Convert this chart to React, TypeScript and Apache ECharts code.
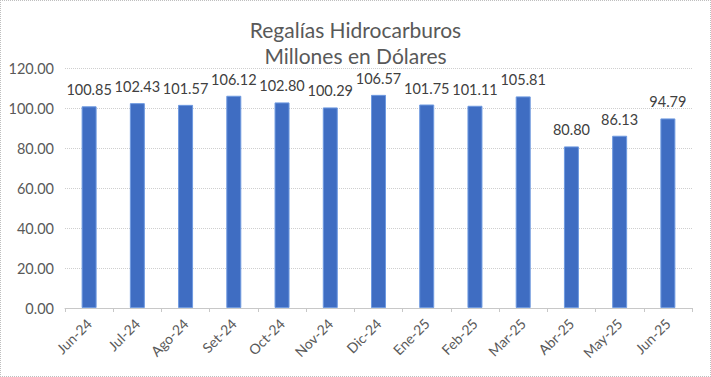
import React, { useEffect, useRef } from "react";
import * as echarts from "echarts";

const categories = ["Jun-24", "Jul-24", "Ago-24", "Set-24", "Oct-24", "Nov-24", "Dic-24", "Ene-25", "Feb-25", "Mar-25", "Abr-25", "May-25", "Jun-25"];
const values = [100.85, 102.43, 101.57, 106.12, 102.8, 100.29, 106.57, 101.75, 101.11, 105.81, 80.8, 86.13, 94.79];
const titleLines = ["Regalías Hidrocarburos", "Millones en Dólares"];

const FONT = "Lato, 'Open Sans', sans-serif";

export default function App() {
  const ref = useRef<HTMLDivElement>(null);
  useEffect(() => {
    if (!ref.current) return;
    const chart = echarts.init(ref.current, null, { renderer: "svg" });
    chart.setOption({
      animation: false,
      backgroundColor: "#ffffff",
      title: {
        text: titleLines.join("\n"),
        left: "center",
        top: 10,
        textStyle: { fontFamily: FONT, fontSize: 21, fontWeight: "normal", color: "#595959", lineHeight: 26 },
      },
      grid: { left: 64, right: 18, top: 67, bottom: 68, containLabel: false },
      xAxis: {
        type: "category",
        data: categories,
        axisLine: { lineStyle: { color: "#c8c8c8" } },
        axisTick: { show: true, lineStyle: { color: "#c8c8c8" }, length: 4 },
        axisLabel: { rotate: 45, color: "#595959", fontFamily: FONT, fontSize: 14, margin: 13, interval: 0 },
      },
      yAxis: {
        type: "value",
        min: 0,
        max: 120,
        interval: 20,
        axisLine: { show: false },
        axisTick: { show: false },
        splitLine: { lineStyle: { color: "#cfcfcf", type: "dotted" } },
        axisLabel: { color: "#595959", fontFamily: FONT, fontSize: 14.5, margin: 11, formatter: (v: number) => v.toFixed(2) },
      },
      series: [
        {
          type: "bar",
          data: values,
          barWidth: 15,
          itemStyle: { color: "#3f6dc2", borderColor: "#6f9ae0", borderWidth: 1 },
          label: {
            show: true,
            position: "top",
            distance: 9,
            color: "#404040",
            fontFamily: FONT,
            fontSize: 14.5,
            formatter: (p: any) => Number(p.value).toFixed(2),
          },
        },
      ],
    });
    return () => chart.dispose();
  }, []);
  return (
    <div
      style={{ position: "fixed", left: 0, top: 0, width: 711, height: 377, boxSizing: "border-box", border: "1px dotted #bfbfbf", background: "#fff" }}
    >
      <div ref={ref} style={{ width: 709, height: 375 }} />
    </div>
  );
}
